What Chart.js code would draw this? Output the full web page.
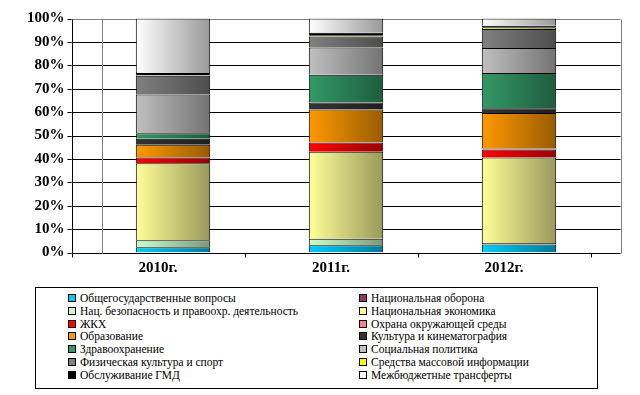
<!DOCTYPE html>
<html lang="ru">
<head>
<meta charset="UTF-8">
<title>Структура расходов бюджета</title>
<script src="https://cdn.jsdelivr.net/npm/chart.js"></script>
<style>
    body {
        margin: 0;
        background: #fff;
        font-family: 'Liberation Serif', 'Times New Roman', serif;
    }
    #wrap {
        position: relative;
        width: 640px;
        height: 395px;
    }
    #chart {
        position: absolute;
        left: 0;
        top: 0;
    }
    .legend {
        position: absolute;
        left: 35px;
        top: 287px;
        width: 561px;
        height: 100px;
        border: 1px solid #000;
    }
    .legend .item {
        position: absolute;
        font-size: 11.5px;
        line-height: 13px;
        white-space: nowrap;
        color: #000;
    }
    .legend .box {
        display: inline-block;
        width: 6px;
        height: 6px;
        border: 1px solid #000;
        margin-right: 4px;
        vertical-align: 0px;
    }
</style>
</head>
<body>
<div id="wrap">
    <canvas id="chart" width="640" height="280"></canvas>
    <div class="legend" id="legend"></div>
</div>

<script>
    // categories
    const years = ['2010г.', '2011г.', '2012г.'];

    // series, in legend / stacking order (bottom to top)
    const seriesNames = [
        'Общегосударственные вопросы',
        'Национальная оборона',
        'Нац. безопасность и правоохр. деятельность',
        'Национальная экономика',
        'ЖКХ',
        'Охрана окружающей среды',
        'Образование',
        'Культура и кинематография',
        'Здравоохранение',
        'Социальная политика',
        'Физическая культура и спорт',
        'Средства массовой информации',
        'Обслуживание ГМД',
        'Межбюджетные трансферты'
    ];
    const seriesColors = [
        '#00ccff', '#993366', '#ccffcc', '#ffff99', '#ff0000', '#ff8080', '#ff9900',
        '#333333', '#339966', '#c0c0c0', '#808080', '#ffff00', '#000000', '#ffffff'
    ];

    // shares, % (one value per series)
    const share2010 = [2.3, 0, 3.0, 32.9, 2.4, 0.3, 5.2, 2.6, 2.3, 16.6, 8.0, 0.2, 1.0, 23.2];
    const share2011 = [3.1, 0, 2.8, 37.2, 3.9, 0.2, 14.0, 2.9, 11.9, 11.7, 4.6, 0.6, 1.0, 6.1];
    const share2012 = [3.5, 0, 0.6, 36.5, 3.5, 0.4, 15.2, 2.0, 15.1, 10.6, 8.2, 0.5, 0.8, 3.1];

    // y axis ticks
    const yTicks = [0, 10, 20, 30, 40, 50, 60, 70, 80, 90, 100];

    const DEPTH = 30;       // fake 3d depth of the walls
    const BAR_PCT = 0.43;

    function shade(hex, k) {
        const n = parseInt(hex.slice(1), 16);
        const r = Math.round(((n >> 16) & 255) * k);
        const g = Math.round(((n >> 8) & 255) * k);
        const b = Math.round((n & 255) * k);
        return `rgb(${r},${g},${b})`;
    }

    // horizontal gradient across each bar, light on the left
    function fillFor(base) {
        return (c) => {
            const chart = c.chart;
            const a = chart.chartArea;
            if (!a || !chart.scales.x) return base;
            const cx = chart.scales.x.getPixelForValue(c.dataIndex);
            const w = (a.right - a.left) / years.length * BAR_PCT;
            const g = chart.ctx.createLinearGradient(cx - w / 2, 0, cx + w / 2, 0);
            g.addColorStop(0, base);
            g.addColorStop(1, shade(base, 0.6));
            return g;
        };
    }

    const allShares = [share2010, share2011, share2012];
    const datasets = seriesNames.map((name, i) => ({
        label: name,
        data: allShares.map(arr => arr[i]),
        backgroundColor: fillFor(seriesColors[i]),
        borderColor: '#000',
        borderWidth: 1,
        categoryPercentage: 1,
        barPercentage: BAR_PCT
    }));

    // walls, gridlines and axes of the old 3d excel look
    const wallPlugin = {
        id: 'wall',
        beforeDatasetsDraw(chart) {
            const { ctx, chartArea: a, scales: { x, y } } = chart;
            const front = a.left - DEPTH / 2;
            const back = a.left + DEPTH / 2;
            const right = a.right + DEPTH / 2;
            const top = Math.round(y.getPixelForValue(100)) + 0.5;
            const bottom = Math.round(y.getPixelForValue(0)) + 0.5;
            const line = (x1, y1, x2, y2, col) => {
                ctx.strokeStyle = col;
                ctx.beginPath();
                ctx.moveTo(x1, y1);
                ctx.lineTo(x2, y2);
                ctx.stroke();
            };
            ctx.save();
            ctx.lineWidth = 1;
            yTicks.forEach(v => {
                const py = Math.round(y.getPixelForValue(v)) + 0.5;
                line(front, py, right, py, v === 100 ? '#808080' : '#000');
                line(front - 4, py, front, py, '#000');
            });
            line(Math.round(back) + 0.5, top, Math.round(back) + 0.5, bottom, '#808080');
            line(Math.round(right) + 0.5, top, Math.round(right) + 0.5, bottom, '#808080');
            line(Math.round(front) + 0.5, top, Math.round(front) + 0.5, bottom, '#000');
            const catW = (a.right - a.left) / years.length;
            for (let i = 0; i <= years.length; i++) {
                const px = Math.round(front + i * catW) + 0.5;
                line(px, bottom, px, bottom + 4, '#000');
            }
            ctx.restore();
        }
    };

    new Chart(document.getElementById('chart'), {
        type: 'bar',
        data: { labels: years, datasets: datasets },
        plugins: [wallPlugin],
        options: {
            responsive: false,
            animation: false,
            layout: { padding: { left: 0, right: 34.5, top: 18.6, bottom: 0 } },
            plugins: {
                legend: { display: false },
                tooltip: { enabled: false }
            },
            scales: {
                x: {
                    stacked: true,
                    grid: { display: false, drawTicks: false },
                    border: { display: false },
                    ticks: {
                        color: '#000',
                        font: { family: 'Liberation Serif', size: 15, weight: 'bold' },
                        padding: 7,
                        labelOffset: -DEPTH / 2
                    },
                    afterFit(s) { s.height = 27.4; }
                },
                y: {
                    stacked: true,
                    min: 0,
                    max: 100,
                    grid: { display: false, drawTicks: false },
                    border: { display: false },
                    ticks: {
                        stepSize: 10,
                        color: '#000',
                        font: { family: 'Liberation Serif', size: 15, weight: 'bold' },
                        padding: 22,
                        callback: v => v + '%'
                    },
                    afterFit(s) {
                        s.width = 86.5;
                        // tick padding would otherwise push the plot down
                        s.paddingTop = 0;
                        s.paddingBottom = 0;
                    }
                }
            }
        }
    });

    // legend: two columns, row by row
    const legend = document.getElementById('legend');
    seriesNames.forEach((name, i) => {
        const col = i % 2;
        const row = Math.floor(i / 2);
        const item = document.createElement('div');
        item.className = 'item';
        item.style.left = (col ? 323 : 32) + 'px';
        item.style.top = (4 + row * 12.8) + 'px';
        const box = document.createElement('span');
        box.className = 'box';
        box.style.background = seriesColors[i];
        item.appendChild(box);
        item.appendChild(document.createTextNode(name));
        legend.appendChild(item);
    });
</script>
</body>
</html>
